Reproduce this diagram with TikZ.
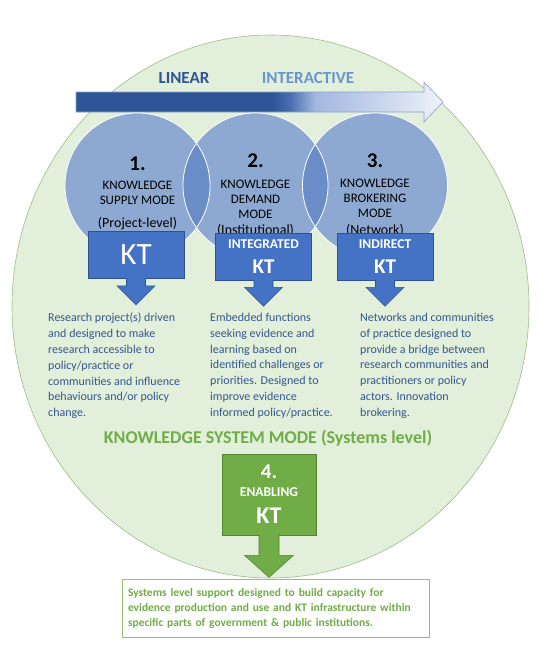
\documentclass[tikz,border=0pt]{standalone}
\usepackage{fontspec}
\setmainfont{Carlito}
\usetikzlibrary{positioning}

\definecolor{bggreen}{HTML}{E2EFDA}
\definecolor{rimgreen}{HTML}{9FBD8A}
\definecolor{modeblue}{HTML}{8EA9D1}
\definecolor{lensblue}{HTML}{6A8DC8}
\definecolor{ktblue}{HTML}{4472C4}
\definecolor{ktedge}{HTML}{2F528F}
\definecolor{darkblue}{HTML}{2F5597}
\definecolor{midblue}{HTML}{4A6FB0}
\definecolor{paleA}{HTML}{A3B8E0}
\definecolor{paleB}{HTML}{B6C7E7}
\definecolor{paleC}{HTML}{EEF2F9}
\definecolor{arrowedge}{HTML}{8CA3C8}
\definecolor{softblue}{HTML}{6A96CE}
\definecolor{textblue}{HTML}{34578F}
\definecolor{sysgreen}{HTML}{70AD47}
\definecolor{sysedge}{HTML}{548235}
\definecolor{boxedge}{HTML}{93BF74}

\pgfdeclarehorizontalshading{linint}{100bp}{color(0bp)=(darkblue); color(51.8bp)=(darkblue); color(54.2bp)=(midblue); color(57.6bp)=(paleA); color(62.3bp)=(paleB); color(75bp)=(paleC); color(100bp)=(paleC)}

\begin{document}
\begin{tikzpicture}[x=1pt, y=-1pt,
  mode/.style={circle, minimum size=145pt, inner sep=0pt, fill=modeblue},
  modetext/.style={align=center, anchor=north, inner sep=0pt, font=\fontsize{13}{15}\selectfont},
  ktbox/.style={rectangle, fill=ktblue, draw=ktedge, line width=0.6pt, minimum width=96pt, minimum height=47pt, inner sep=0pt, text=white, align=center},
  ktarrow/.style={fill=ktblue, draw=ktedge, line width=0.6pt},
  desc/.style={anchor=north west, align=left, inner sep=0pt, text=textblue, font=\fontsize{12}{15.8}\selectfont}]

  \useasboundingbox[fill=white] (0,0) rectangle (547,648);

  % systeme (fond)
  \draw[fill=bggreen, draw=rimgreen, line width=0.6pt] (270.5,306.5) ellipse (258.5pt and 271.5pt);

  % lineaire -> interactif
  \draw[shading=linint, draw=arrowedge, line width=0.6pt] (76,92) -- (424,92) -- (424,82) -- (443,102) -- (424,122) -- (424,112) -- (76,112) -- cycle;
  \node[font=\fontsize{17}{17}\selectfont\bfseries, text=darkblue] (lin) at (184,78) {LINEAR};
  \node[font=\fontsize{17}{17}\selectfont\bfseries, text=softblue] (int) at (308,78) {INTERACTIVE};

  % modes 1-3
  \node[mode] (c1) at (137.5,185.5) {};
  \node[mode] (c2) at (255.5,185.5) {};
  \node[mode] (c3) at (375,185.5) {};
  \begin{scope}
    \clip (c1.center) circle (72.5pt);
    \fill[lensblue] (c2.center) circle (72.5pt);
  \end{scope}
  \begin{scope}
    \clip (c2.center) circle (72.5pt);
    \fill[lensblue] (c3.center) circle (72.5pt);
  \end{scope}
  \foreach \c in {c1,c2,c3}
    \draw[white, line width=0.8pt] (\c.center) circle (72.5pt);

  \node[modetext] (m1) at (137.5,157) {{\fontsize{21}{21}\selectfont\bfseries 1.}\\[3.5pt] KNOWLEDGE\\ SUPPLY MODE\\[8pt] {\fontsize{14}{14}\selectfont (Project-level)}};
  \node[modetext] (m2) at (255.5,154) {{\fontsize{21}{21}\selectfont\bfseries 2.}\\[6pt] KNOWLEDGE\\ DEMAND\\ MODE\\[1pt] {\fontsize{14}{14}\selectfont (Institutional)}};
  \node[modetext] (m3) at (375,154) {{\fontsize{21}{21}\selectfont\bfseries 3.}\\[5pt] KNOWLEDGE\\ BROKERING\\ MODE\\[2pt] {\fontsize{14}{14}\selectfont (Network)}};

  % KT
  \node[ktbox, font=\fontsize{31}{31}\selectfont] (kt1) at (136,255) {KT};
  \node[ktbox, font=\bfseries\fontsize{13.5}{16}\selectfont] (kt2) at (263.5,256.5) {INTEGRATED\\[9pt]{\fontsize{21}{21}\selectfont KT}};
  \node[ktbox, font=\bfseries\fontsize{13.5}{16}\selectfont] (kt3) at (385,256.5) {INDIRECT\\[9pt]{\fontsize{21}{21}\selectfont KT}};
  \foreach \b in {kt1,kt2,kt3}
    \filldraw[ktarrow] ([xshift=-9.5pt,yshift=0.6pt]\b.south) -- ++(0,7.6) -- ++(-9.5,0) -- ++(19,19) -- ++(19,-19) -- ++(-9.5,0) -- ++(0,-7.6);

  % descriptions
  \node[desc] (d1) at (48,313) {Research project(s) driven\\ and designed to make\\ research accessible to\\ policy/practice or\\ communities and influence\\ behaviours and/or policy\\ change.};
  \node[desc] (d2) at (210,313) {Embedded functions\\ seeking evidence and\\ learning based on\\ identified challenges or\\ priorities. Designed to\\ improve evidence\\ informed policy/practice.};
  \node[desc] (d3) at (360,313) {Networks and communities\\ of practice designed to\\ provide a bridge between\\ research communities and\\ practitioners or policy\\ actors. Innovation\\ brokering.};

  % mode 4
  \node[font=\fontsize{18}{18}\selectfont\bfseries, text=sysgreen] (sys) at (268,438) {KNOWLEDGE SYSTEM MODE (Systems level)};
  \node[rectangle, fill=sysgreen, draw=sysedge, line width=0.6pt, minimum width=94pt, minimum height=81pt, inner sep=0pt, text=white, align=center, font=\bfseries\fontsize{13.5}{18}\selectfont] (kt4) at (269,494.5) {{\fontsize{21}{21}\selectfont 4.}\\ ENABLING\\[9pt] {\fontsize{24}{24}\selectfont KT}};
  \filldraw[fill=sysgreen, draw=sysedge, line width=0.6pt] ([xshift=-10pt,yshift=0.6pt]kt4.south) -- ++(0,20.6) -- ++(-14.5,0) -- ++(24.5,22) -- ++(24.5,-22) -- ++(-14.5,0) -- ++(0,-20.6);

  \node[draw=boxedge, fill=white, line width=0.8pt, text width=299pt, inner xsep=4pt, minimum height=58pt, align=left, text=sysgreen, font=\bfseries\fontsize{11.5}{15}\selectfont] (sup) at (275.5,608) {\hspace{2pt}Systems level support designed to build capacity for\\ \hspace{2pt}evidence production and use and KT infrastructure within\\ \hspace{2pt}specific parts of government \& public institutions.};
\end{tikzpicture}
\end{document}
